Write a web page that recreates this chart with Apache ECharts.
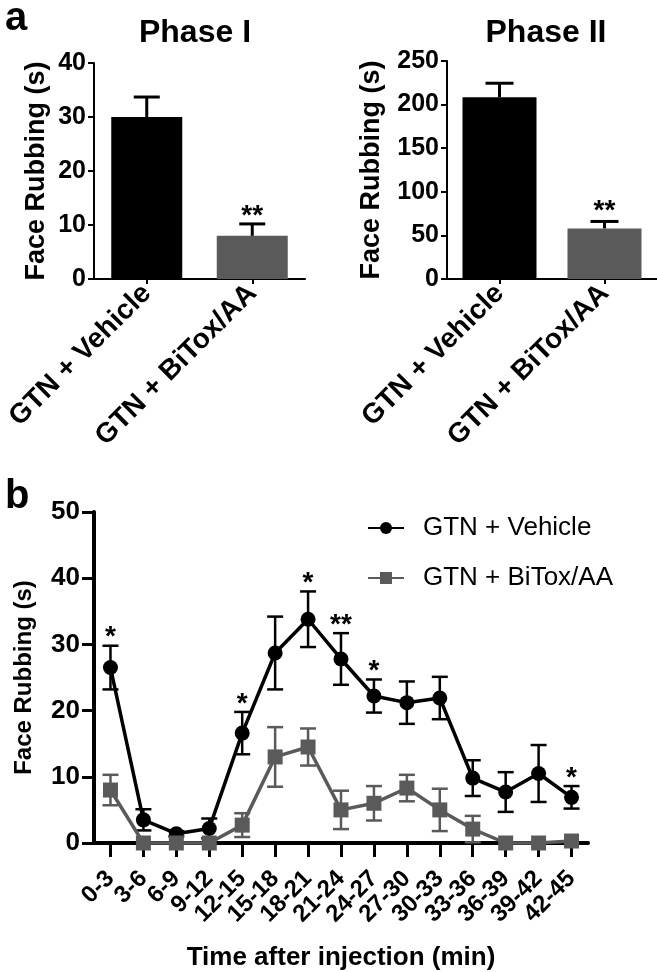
<!DOCTYPE html>
<html>
<head>
<meta charset="utf-8">
<script src="https://cdn.jsdelivr.net/npm/echarts@6/dist/echarts.min.js"></script>
<style>html,body{margin:0;padding:0;background:#fff}#c{width:657px;height:972px}</style>
</head>
<body>
<div id="c"></div>
<script>
// ---- data ----
var groups = ['GTN + Vehicle', 'GTN + BiTox/AA'];
var phase1Mean = [30.0, 8.0];
var phase1Err = [3.7, 2.2];
var phase1Sig = ['', '**'];
var phase2Mean = [208.5, 58.0];
var phase2Err = [16.0, 8.0];
var phase2Sig = ['', '**'];

var timeBins = ['0-3','3-6','6-9','9-12','12-15','15-18','18-21','21-24','24-27','27-30','30-33','33-36','36-39','39-42','42-45'];
var vehicleMean = [26.5, 3.5, 1.4, 2.2, 16.6, 28.7, 33.8, 27.8, 22.2, 21.2, 21.9, 9.8, 7.7, 10.5, 6.9];
var vehicleErr  = [3.3, 1.6, 0.4, 1.5, 3.2, 5.5, 4.2, 3.9, 2.5, 3.2, 3.2, 2.7, 3.0, 4.3, 1.7];
var bitoxMean   = [8.0, 0, 0, 0, 2.7, 13.0, 14.5, 5.0, 6.0, 8.3, 5.0, 2.1, 0, 0, 0.3];
var bitoxErr    = [2.3, 0, 0, 0, 1.8, 4.5, 2.8, 2.9, 2.6, 2.0, 3.2, 2.0, 0, 0, 0];
var timeSig     = ['*','','','','*','','*','**','*','','','','','','*'];
var noSig       = ['','','','','','','','','','','','','','',''];

var FONT = '"Liberation Sans", Arial, sans-serif';
var GRAY = '#5a5a5a';

function pairs(mean, err){
  return mean.map(function(m, i){ return [i, m, err[i]]; });
}

function errRender(opts, sigArr){
  return function(params, api){
    var i = api.value(0), m = api.value(1), e = api.value(2);
    var sig = sigArr[params.dataIndex];
    var children = [];
    var top = api.coord([i, m + e]);
    var bot = api.coord([i, opts.both ? m - e : m]);
    if (e > 0) {
      children.push({type:'line', shape:{x1:top[0], y1:top[1], x2:bot[0], y2:bot[1]}, style:{stroke:opts.color, lineWidth:opts.lw}});
      children.push({type:'line', shape:{x1:top[0]-opts.cap, y1:top[1], x2:top[0]+opts.cap, y2:top[1]}, style:{stroke:opts.color, lineWidth:opts.lw}});
      if (opts.both) children.push({type:'line', shape:{x1:bot[0]-opts.cap, y1:bot[1], x2:bot[0]+opts.cap, y2:bot[1]}, style:{stroke:opts.color, lineWidth:opts.lw}});
    }
    if (sig) {
      children.push({type:'text', x:top[0], y:top[1] + opts.starOff, style:{text:sig, align:'center', verticalAlign:'middle', fontSize:opts.starSize, fontWeight:'bold', fontFamily:FONT, fill:'#000'}});
    }
    return {type:'group', children:children};
  };
}

var topAxisLine = {lineStyle:{color:'#000', width:2}};
var chart = echarts.init(document.getElementById('c'));
chart.setOption({
  animation:false,
  backgroundColor:'#fff',
  title:[
    {text:'a', left:0, top:-6, textStyle:{fontFamily:FONT, fontSize:40, fontWeight:'bold', color:'#000'}},
    {text:'Phase I', left:190, top:12, textAlign:'center', textStyle:{fontFamily:FONT, fontSize:32, fontWeight:'bold', color:'#000'}},
    {text:'Phase II', left:541, top:12, textAlign:'center', textStyle:{fontFamily:FONT, fontSize:32, fontWeight:'bold', color:'#000'}},
    {text:'b', left:0, top:472, textStyle:{fontFamily:FONT, fontSize:40, fontWeight:'bold', color:'#000'}}
  ],
  legend:{
    orient:'vertical', left:362, top:510, itemGap:24, itemWidth:36, itemHeight:15,
    data:['GTN + Vehicle','GTN + BiTox/AA'],
    textStyle:{fontFamily:FONT, fontSize:26, color:'#000', padding:[0,0,0,14]}
  },
  grid:[
    {left:94, top:63, width:211, height:216},
    {left:447, top:61, width:218, height:218},
    {left:94, top:512, width:494, height:331}
  ],
  xAxis:[
    {type:'category', gridIndex:0, data:groups,
     axisLine:topAxisLine, axisTick:{show:true, alignWithLabel:true, length:5, lineStyle:{width:2, color:'#000'}},
     axisLabel:{rotate:45, margin:10, interval:0, fontFamily:FONT, fontSize:28, fontWeight:'bold', color:'#000'}},
    {type:'category', gridIndex:1, data:groups,
     axisLine:topAxisLine, axisTick:{show:true, alignWithLabel:true, length:5, lineStyle:{width:2, color:'#000'}},
     axisLabel:{rotate:45, margin:10, interval:0, fontFamily:FONT, fontSize:28, fontWeight:'bold', color:'#000'}},
    {type:'category', gridIndex:2, data:timeBins,
     name:'Time after injection (min)', nameLocation:'middle', nameGap:102,
     nameTextStyle:{fontFamily:FONT, fontSize:26, fontWeight:'bold', color:'#000'},
     axisLine:{lineStyle:{color:'#000', width:4}}, axisTick:{show:true, alignWithLabel:true, length:14, lineStyle:{width:3, color:'#000'}},
     axisLabel:{rotate:45, margin:32, interval:0, fontFamily:FONT, fontSize:24, fontWeight:'bold', color:'#000'}}
  ],
  yAxis:[
    {type:'value', gridIndex:0, min:0, max:40, interval:10,
     name:'Face Rubbing (s)', nameLocation:'middle', nameGap:44,
     nameTextStyle:{fontFamily:FONT, fontSize:27, fontWeight:'bold', color:'#000'},
     axisLine:{show:true, lineStyle:{color:'#000', width:2}}, axisTick:{show:true, length:6, lineStyle:{width:2, color:'#000'}},
     splitLine:{show:false},
     axisLabel:{margin:8, fontFamily:FONT, fontSize:25, fontWeight:'bold', color:'#000'}},
    {type:'value', gridIndex:1, min:0, max:250, interval:50,
     name:'Face Rubbing (s)', nameLocation:'middle', nameGap:62,
     nameTextStyle:{fontFamily:FONT, fontSize:27, fontWeight:'bold', color:'#000'},
     axisLine:{show:true, lineStyle:{color:'#000', width:2}}, axisTick:{show:true, length:6, lineStyle:{width:2, color:'#000'}},
     splitLine:{show:false},
     axisLabel:{margin:8, fontFamily:FONT, fontSize:25, fontWeight:'bold', color:'#000'}},
    {type:'value', gridIndex:2, min:0, max:50, interval:10,
     name:'Face Rubbing (s)', nameLocation:'middle', nameGap:58,
     nameTextStyle:{fontFamily:FONT, fontSize:24, fontWeight:'bold', color:'#000'},
     axisLine:{show:true, lineStyle:{color:'#000', width:4}}, axisTick:{show:true, length:12, lineStyle:{width:3, color:'#000'}},
     splitLine:{show:false},
     axisLabel:{margin:14, fontFamily:FONT, fontSize:26, fontWeight:'bold', color:'#000'}}
  ],
  series:[
    {type:'bar', xAxisIndex:0, yAxisIndex:0, barWidth:71,
     data:phase1Mean.map(function(v,i){return {value:v, itemStyle:{color: i===0 ? '#000' : GRAY}};})},
    {type:'custom', xAxisIndex:0, yAxisIndex:0, z:3, data:pairs(phase1Mean, phase1Err),
     renderItem:errRender({both:false, cap:13, lw:3, color:'#000', starOff:-8, starSize:28}, phase1Sig)},
    {type:'bar', xAxisIndex:1, yAxisIndex:1, barWidth:74,
     data:phase2Mean.map(function(v,i){return {value:v, itemStyle:{color: i===0 ? '#000' : GRAY}};})},
    {type:'custom', xAxisIndex:1, yAxisIndex:1, z:3, data:pairs(phase2Mean, phase2Err),
     renderItem:errRender({both:false, cap:14, lw:3, color:'#000', starOff:-10, starSize:28}, phase2Sig)},
    {type:'custom', xAxisIndex:2, yAxisIndex:2, z:2, data:pairs(vehicleMean, vehicleErr),
     renderItem:errRender({both:true, cap:8, lw:2.5, color:'#000', starOff:-8, starSize:28}, timeSig)},
    {type:'custom', xAxisIndex:2, yAxisIndex:2, z:2, data:pairs(bitoxMean, bitoxErr),
     renderItem:errRender({both:true, cap:8, lw:2.5, color:GRAY, starOff:-8, starSize:28}, noSig)},
    {type:'line', name:'GTN + Vehicle', xAxisIndex:2, yAxisIndex:2, z:4, clip:false, data:vehicleMean,
     symbol:'circle', symbolSize:15, lineStyle:{color:'#000', width:3.5}, itemStyle:{color:'#000'}},
    {type:'line', name:'GTN + BiTox/AA', xAxisIndex:2, yAxisIndex:2, z:5, clip:false, data:bitoxMean,
     symbol:'rect', symbolSize:15, lineStyle:{color:GRAY, width:3.5}, itemStyle:{color:GRAY}}
  ]
});
</script>
</body>
</html>
